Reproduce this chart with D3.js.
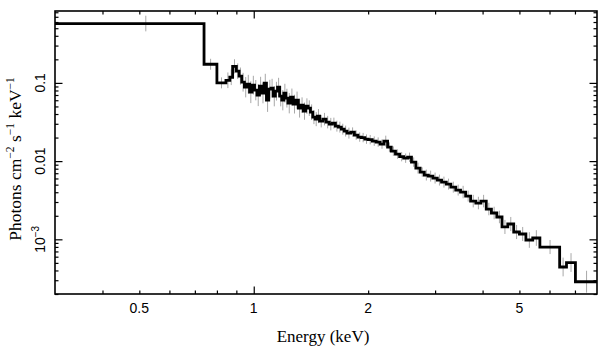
<!DOCTYPE html>
<html>
<head>
<meta charset="utf-8">
<script src="https://cdn.jsdelivr.net/npm/d3@7"></script>
<style>
  html, body { margin: 0; padding: 0; background: #fff; }
  svg { display: block; }
</style>
</head>
<body>
<svg id="chart" width="609" height="357"></svg>
<script>
// ---- data ----
// bin edges (keV)
const binEdges = [0.3, 0.74, 0.80, 0.845, 0.865, 0.88, 0.90, 0.915, 0.93, 0.945,
  0.96, 0.975, 0.99, 1.005, 1.02, 1.035, 1.05, 1.065, 1.08, 1.095,
  1.11, 1.125, 1.14, 1.155, 1.17, 1.185, 1.20, 1.215, 1.23, 1.25,
  1.27, 1.29, 1.31, 1.33, 1.35, 1.37, 1.39, 1.41, 1.43, 1.45,
  1.47, 1.49, 1.52, 1.55, 1.58, 1.61, 1.64, 1.67, 1.70, 1.73,
  1.76, 1.80, 1.84, 1.88, 1.92, 1.96, 2.00, 2.05, 2.10, 2.15,
  2.20, 2.25, 2.30, 2.36, 2.42, 2.48, 2.54, 2.60, 2.67, 2.74,
  2.81, 2.88, 2.96, 3.04, 3.12, 3.21, 3.30, 3.40, 3.50, 3.61,
  3.72, 3.84, 3.96, 4.09, 4.22, 4.36, 4.50, 4.66, 4.83, 5.00,
  5.20, 5.42, 5.66, 6.38, 6.65, 7.02, 8.0];
// photons cm^-2 s^-1 keV^-1 per bin
const fluxValues = [0.574, 0.173, 0.100, 0.108, 0.118, 0.163, 0.141, 0.122, 0.102, 0.0881,
  0.0962, 0.0761, 0.0935, 0.0807, 0.0697, 0.0908, 0.0739, 0.0991, 0.0601, 0.0831,
  0.0856, 0.0676, 0.0783, 0.0881, 0.0676, 0.0601, 0.0739, 0.0638, 0.0550, 0.0657,
  0.0535, 0.0601, 0.0475, 0.0519, 0.0435, 0.0504, 0.0475, 0.0422, 0.0365, 0.0344,
  0.0376, 0.0324, 0.0344, 0.0315, 0.0297, 0.0306, 0.0280, 0.0272, 0.0256, 0.0242,
  0.0228, 0.0235, 0.0215, 0.0203, 0.0200, 0.0191, 0.0188, 0.0180, 0.0175, 0.0165,
  0.0180, 0.0151, 0.0134, 0.0123, 0.0114, 0.0109, 0.0112, 0.00971, 0.00814, 0.00724,
  0.00663, 0.00643, 0.00607, 0.00572, 0.00539, 0.00508, 0.00465, 0.00426, 0.00402, 0.00357,
  0.00308, 0.00291, 0.00308, 0.00244, 0.00217, 0.00193, 0.00144, 0.00157, 0.00124, 0.00117,
  0.00098, 0.00104, 0.000797, 0.000443, 0.000505, 0.000287];
// half error bar length (dex)
const errDex = [0.1, 0.07, 0.07, 0.1, 0.1, 0.09, 0.1, 0.11, 0.12, 0.13,
  0.12, 0.14, 0.12, 0.13, 0.14, 0.12, 0.13, 0.12, 0.15, 0.12,
  0.12, 0.13, 0.12, 0.12, 0.13, 0.13, 0.12, 0.12, 0.13, 0.11,
  0.12, 0.11, 0.12, 0.1, 0.11, 0.1, 0.1, 0.1, 0.09, 0.09,
  0.09, 0.08, 0.08, 0.08, 0.08, 0.07, 0.07, 0.07, 0.07, 0.07,
  0.07, 0.06, 0.06, 0.06, 0.06, 0.06, 0.06, 0.06, 0.06, 0.06,
  0.07, 0.06, 0.06, 0.06, 0.06, 0.06, 0.06, 0.06, 0.07, 0.06,
  0.07, 0.07, 0.07, 0.07, 0.07, 0.07, 0.07, 0.07, 0.08, 0.07,
  0.08, 0.08, 0.08, 0.08, 0.08, 0.08, 0.09, 0.09, 0.09, 0.09,
  0.1, 0.1, 0.09, 0.12, 0.12, 0.14];

const xDomain = [0.3, 8.0];
const yDomain = [2e-4, 0.83];
const xLabelTicks = [0.5, 1, 2, 5];
const xMajorTicks = [1];
const xMinorTicks = [0.4, 0.5, 0.6, 0.7, 0.8, 0.9, 2, 3, 4, 5, 6, 7];
const yMajorTicks = [0.1, 0.01, 0.001];
const yLabelTicks = [
  { v: 0.1, base: "0.1", sup: "" },
  { v: 0.01, base: "0.01", sup: "" },
  { v: 0.001, base: "10", sup: "\u22123" }
];

// ---- layout ----
const L = 55, R = 597, T = 11, B = 294;
const svg = d3.select("#chart");
const x = d3.scaleLog().domain(xDomain).range([L, R]);
const y = d3.scaleLog().domain(yDomain).range([B, T]);

const yMinorTicks = y.ticks(30).filter(v => {
  const m = v / Math.pow(10, Math.floor(Math.log10(v) + 1e-9));
  return Math.abs(m - 1) > 1e-6;
});

svg.append("defs").append("clipPath").attr("id", "clip")
  .append("rect").attr("x", L).attr("y", T).attr("width", R - L).attr("height", B - T);

const plot = svg.append("g").attr("clip-path", "url(#clip)");

// bins
const bins = fluxValues.map((v, i) => ({ lo: binEdges[i], hi: binEdges[i + 1], v, e: errDex[i] }));

// error bars
plot.append("g").selectAll("line").data(bins).join("line")
  .attr("x1", d => x((d.lo + d.hi) / 2)).attr("x2", d => x((d.lo + d.hi) / 2))
  .attr("y1", d => y(d.v * Math.pow(10, d.e)))
  .attr("y2", d => y(d.v / Math.pow(10, d.e)))
  .attr("stroke", "#a8a8a8").attr("stroke-width", 1);

// step line
const pts = bins.map(d => [d.lo, d.v]);
pts.push([bins[bins.length - 1].hi, bins[bins.length - 1].v]);
plot.append("path").datum(pts)
  .attr("d", d3.line().x(d => x(d[0])).y(d => y(d[1])).curve(d3.curveStepAfter))
  .attr("fill", "none").attr("stroke", "#000").attr("stroke-width", 2.8)
  .attr("stroke-linejoin", "miter");

// axes ticks (inward, on all four sides)
function axisTicks(axisGen, vals, size, tr) {
  svg.append("g").attr("transform", tr)
    .call(axisGen.tickValues(vals).tickSize(size).tickFormat(""))
    .call(g => g.select(".domain").remove())
    .call(g => g.selectAll("line").attr("stroke", "#000").attr("stroke-width", 1.2));
}
axisTicks(d3.axisBottom(x), xMinorTicks, -3.5, `translate(0,${B})`);
axisTicks(d3.axisBottom(x), xMajorTicks, -7.5, `translate(0,${B})`);
axisTicks(d3.axisTop(x), xMinorTicks, -3.5, `translate(0,${T})`);
axisTicks(d3.axisTop(x), xMajorTicks, -7.5, `translate(0,${T})`);
axisTicks(d3.axisLeft(y), yMinorTicks, -3.5, `translate(${L},0)`);
axisTicks(d3.axisLeft(y), yMajorTicks, -7.5, `translate(${L},0)`);
axisTicks(d3.axisRight(y), yMinorTicks, -3.5, `translate(${R},0)`);
axisTicks(d3.axisRight(y), yMajorTicks, -7.5, `translate(${R},0)`);

// frame
svg.append("rect").attr("x", L).attr("y", T).attr("width", R - L).attr("height", B - T)
  .attr("fill", "none").attr("stroke", "#000").attr("stroke-width", 1.6);

// x tick labels
svg.append("g").selectAll("text").data(xLabelTicks).join("text")
  .attr("x", d => x(d)).attr("y", 313)
  .attr("text-anchor", "middle")
  .attr("font-family", "Liberation Sans, Arial, sans-serif")
  .attr("font-size", 14)
  .text(d => String(d));

// y tick labels (rotated)
const yl = svg.append("g").selectAll("text").data(yLabelTicks).join("text")
  .attr("transform", d => `translate(45,${y(d.v)}) rotate(-90)`)
  .attr("text-anchor", "middle")
  .attr("font-family", "Liberation Sans, Arial, sans-serif")
  .attr("font-size", 14);
yl.append("tspan").text(d => d.base);
yl.filter(d => d.sup).append("tspan").attr("dy", -6).attr("font-size", 10).text(d => d.sup);

// axis titles
svg.append("text").attr("x", 323).attr("y", 342)
  .attr("text-anchor", "middle")
  .attr("font-family", "Liberation Serif, Times New Roman, serif")
  .attr("font-size", 17)
  .text("Energy (keV)");

const yt = svg.append("text")
  .attr("transform", "translate(21,159) rotate(-90)")
  .attr("text-anchor", "middle")
  .attr("font-family", "Liberation Serif, Times New Roman, serif")
  .attr("font-size", 17.5);
const parts = [["Photons cm", ""], ["\u22122", "sup"], [" s", ""], ["\u22121", "sup"], [" keV", ""], ["\u22121", "sup"]];
parts.forEach(([t, k]) => {
  const s = yt.append("tspan").text(t);
  if (k === "sup") s.attr("font-size", 11.5).attr("dy", -7);
  else s.attr("dy", 7);
});
yt.select("tspan").attr("dy", 0);
</script>
</body>
</html>
